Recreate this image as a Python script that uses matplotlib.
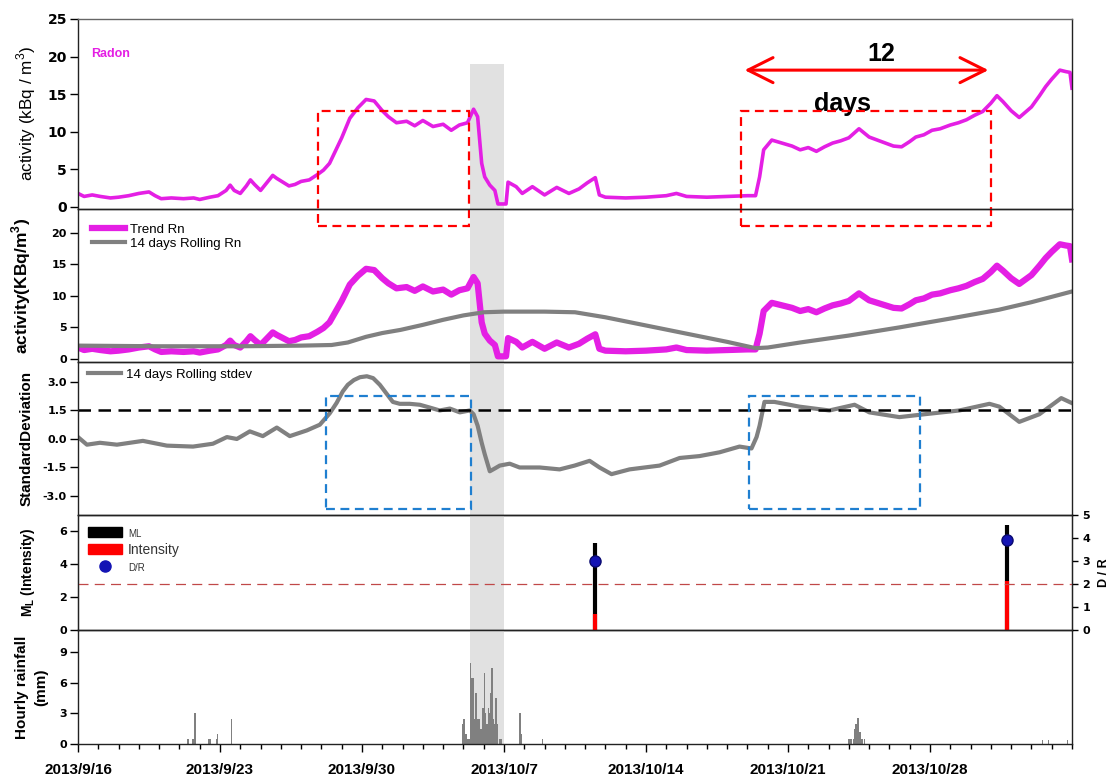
import numpy as np
import matplotlib
matplotlib.use("Agg")
import matplotlib.pyplot as plt
import matplotlib.dates as mdates
from matplotlib.patches import Rectangle, Patch
from matplotlib.lines import Line2D
from matplotlib.ticker import FixedLocator, FuncFormatter

plt.rcParams['font.family'] = ['Liberation Sans', 'DejaVu Sans']
plt.rcParams['axes.unicode_minus'] = False
plt.rcParams['mathtext.fontset'] = 'custom'
plt.rcParams['mathtext.rm'] = 'Liberation Sans'
plt.rcParams['mathtext.bf'] = 'Liberation Sans:bold'

# ---- data (x in days after 2013/9/16 00:00) ----
rn_day = [0.0, 0.3, 0.7, 1.1, 1.6, 2.0, 2.5, 3.0, 3.5, 3.8, 4.1, 4.6, 5.2, 5.7, 6.0,
          6.5, 6.9, 7.3, 7.5, 7.7, 8.0, 8.3, 8.5, 8.7, 9.0, 9.3, 9.6, 9.8, 10.1, 10.4,
          10.7, 11.0, 11.4, 11.8, 12.1, 12.4, 12.7, 13.0, 13.4, 13.8, 14.2, 14.6, 15.0,
          15.3, 15.7, 16.2, 16.6, 17.0, 17.5, 18.0, 18.4, 18.8, 19.2, 19.5, 19.7, 19.8,
          19.9, 20.05, 20.3, 20.55, 20.7, 21.1, 21.2, 21.6, 21.9, 22.4, 23.0, 23.6, 24.2,
          24.7, 25.1, 25.5, 25.7, 26.0, 27.0, 28.0, 29.0, 29.5, 30.0, 31.0, 32.0, 33.0,
          33.4, 33.6, 33.8, 34.2, 34.7, 35.2, 35.6, 36.0, 36.4, 36.8, 37.2, 37.6, 38.0,
          38.5, 39.0, 39.4, 39.8, 40.2, 40.6, 41.0, 41.3, 41.7, 42.1, 42.5, 43.0, 43.4,
          43.8, 44.2, 44.6, 45.0, 45.3, 45.6, 46.0, 46.4, 46.7, 47.0, 47.4, 47.7, 48.0,
          48.4, 48.7, 48.9, 49.0]
rn_val = [1.8, 1.4, 1.6, 1.4, 1.2, 1.3, 1.5, 1.8, 2.0, 1.5, 1.1, 1.2, 1.1, 1.2, 1.0,
          1.3, 1.5, 2.2, 2.9, 2.2, 1.8, 2.8, 3.6, 3.0, 2.2, 3.2, 4.2, 3.8, 3.3, 2.8,
          3.0, 3.4, 3.6, 4.3, 4.9, 5.8, 7.5, 9.2, 11.8, 13.2, 14.3, 14.1, 12.8,
          12.0, 11.2, 11.4, 10.8, 11.5, 10.7, 11.0, 10.2, 10.9, 11.2, 13.0, 12.0, 8.9,
          5.8, 4.0, 2.9, 2.2, 0.4, 0.4, 3.3, 2.7, 1.8, 2.7, 1.6, 2.6, 1.8,
          2.4, 3.2, 3.9, 1.6, 1.3, 1.2, 1.3, 1.5, 1.8, 1.4, 1.3, 1.4, 1.5,
          1.5, 4.0, 7.6, 8.9, 8.5, 8.1, 7.6, 7.9, 7.4, 8.0, 8.5, 8.8, 9.2,
          10.4, 9.3, 8.9, 8.5, 8.1, 8.0, 8.7, 9.3, 9.6, 10.2, 10.4, 10.9, 11.2,
          11.6, 12.2, 12.7, 13.8, 14.8, 14.0, 12.8, 11.9, 12.6, 13.3, 14.8, 16.0, 17.0,
          18.2, 18.0, 17.9, 15.8]

roll_day = [0, 4, 8, 11, 12.5, 13.3, 14.2, 15.0, 15.9, 17.0, 18.0, 19.0, 20.0, 21.0,
            23.0, 24.5, 26.0, 28.0, 30.0, 32.0, 33.4, 34.0, 35.6, 38.0, 40.5, 43.0,
            45.4, 47.0, 49.0]
roll_val = [2.1, 2.0, 2.0, 2.1, 2.2, 2.6, 3.5, 4.1, 4.6, 5.4, 6.2, 6.9, 7.4, 7.5,
            7.5, 7.4, 6.6, 5.3, 4.0, 2.7, 1.7, 1.8, 2.6, 3.7, 5.0, 6.4,
            7.8, 9.0, 10.7]

sd_day = [0.0, 0.44, 1.08, 1.92, 3.2, 4.38, 5.67, 6.65, 7.34, 7.83, 8.47, 9.11, 9.8,
          10.44, 11.28, 11.92, 12.41, 12.75, 13.05, 13.3, 13.6, 13.9, 14.24, 14.55,
          14.88, 15.2, 15.52, 15.86, 16.35, 16.85, 17.35, 17.83, 18.33, 18.82, 19.31,
          19.5, 19.7, 19.9, 20.05, 20.3, 20.55, 20.79, 21.28, 21.77, 22.76,
          23.74, 24.48, 25.22, 25.71, 26.3, 27.19, 28.67, 29.66, 30.64, 31.63, 32.61,
          33.2, 33.45, 33.6, 33.84, 34.33, 35.57, 37.04, 38.28, 39.01, 40.49, 41.72, 43.45,
          44.93, 45.42, 46.4, 47.39, 48.47, 48.97]
sd_val = [0.1, -0.3, -0.2, -0.3, -0.1, -0.35, -0.4, -0.25, 0.1, 0.0, 0.4, 0.15, 0.6,
          0.15, 0.45, 0.75, 1.35, 1.9, 2.5, 2.85, 3.1, 3.25, 3.3, 3.2,
          2.85, 2.4, 1.95, 1.85, 1.85, 1.8, 1.65, 1.5, 1.6, 1.4, 1.5,
          1.3, 0.7, -0.2, -0.8, -1.7, -1.55, -1.4, -1.3, -1.5, -1.5,
          -1.6, -1.4, -1.15, -1.5, -1.85, -1.6, -1.4, -1.0, -0.9, -0.7, -0.4,
          -0.5, 0.1, 0.7, 1.95, 1.95, 1.7, 1.5, 1.8, 1.4, 1.15, 1.3, 1.5,
          1.85, 1.7, 0.9, 1.3, 2.15, 1.9]

rain_day = [5.42, 5.67, 5.78, 6.45, 6.52, 6.83, 6.88, 7.56,
            18.96, 19.03, 19.12, 19.21, 19.28, 19.35, 19.42, 19.49, 19.56, 19.63, 19.70,
            19.77, 19.84, 19.91, 19.96, 20.03, 20.08, 20.15, 20.23, 20.30, 20.35, 20.40,
            20.47, 20.54, 20.61, 20.68, 20.77, 20.86,
            21.79, 21.84, 22.9,
            37.98, 38.05, 38.13, 38.25, 38.31, 38.36, 38.43, 38.48, 38.55, 38.66, 38.77,
            47.54, 47.83, 48.77]
rain_mm = [0.5, 0.5, 3.0, 0.5, 0.5, 0.5, 1.0, 2.5,
           2.0, 2.5, 1.0, 0.5, 0.5, 8.0, 6.5, 6.5, 2.5, 5.0, 2.5,
           2.5, 1.5, 1.5, 3.5, 7.0, 3.0, 2.0, 3.5, 3.0, 5.0, 7.5,
           2.5, 2.0, 4.5, 2.0, 0.5, 0.5,
           3.0, 1.0, 0.5,
           0.5, 0.5, 0.5, 0.5, 1.5, 2.0, 2.6, 2.6, 1.2, 0.5, 0.5,
           0.4, 0.4, 0.4]

eq_day = [25.5, 45.78]
eq_ml = [5.3, 6.4]
eq_int = [1, 3]
eq_dr = [3.0, 3.9]

tick_dates = np.array(['2013-09-16', '2013-09-23', '2013-09-30', '2013-10-07',
                       '2013-10-14', '2013-10-21', '2013-10-28'], dtype='datetime64[D]')

rain_band = (19.3, 21.0)
red_boxes = [(11.85, 19.26), (32.66, 45.03)]
blue_boxes = [(12.22, 19.36), (33.1, 41.5)]

# ---- figure ----
base = mdates.date2num(np.datetime64('2013-09-16T00:00'))
def t(days):
    return base + np.asarray(days, dtype=float)

MAG = '#e41fe4'
GRY = '#808080'

fig = plt.figure(figsize=(11.15, 7.78), dpi=100)
L, W = 78 / 1115, 994 / 1115
def panel(top, bottom):
    return fig.add_axes([L, 1 - bottom / 778, W, (bottom - top) / 778])

ax1 = panel(19, 209)
ax2 = panel(209, 362)
ax3 = panel(362, 515)
ax4 = panel(515, 630)
ax5 = panel(630, 744)
axes = [ax1, ax2, ax3, ax4, ax5]

for ax in axes:
    ax.patch.set_visible(False)
    ax.set_xlim(t(0), t(49))
    for s in ax.spines.values():
        s.set_linewidth(1.0)
        s.set_color('#222222')
    ax.tick_params(axis='y', direction='out', length=6, width=1, pad=2)
    if ax is not ax5:
        ax.tick_params(axis='x', which='both', bottom=False, labelbottom=False)
    ymax = 0.763 if ax is ax1 else 1.0
    ax.axvspan(t(rain_band[0]), t(rain_band[1]), ymin=0, ymax=ymax,
               color='#e1e1e1', lw=0, zorder=0)
ax1.spines['top'].set_color('#666666')

# panel 1: radon
ax1.plot(t(rn_day), rn_val, color=MAG, lw=2.6, solid_joinstyle='round')
ax1.set_ylim(-0.27, 25)
ax1.set_yticks([0, 5, 10, 15, 20, 25])
ax1.set_ylabel('activity (kBq / m$^3$)', fontsize=12.3)
ax1.yaxis.set_label_coords(-0.040, 0.5)
ax1.text(0.013, 0.816, 'Radon', transform=ax1.transAxes, color=MAG,
         fontsize=9, fontweight='bold', va='center')
for x0, x1 in red_boxes:
    ax1.add_patch(Rectangle((t(x0), -2.53), x1 - x0, 15.3, fill=False,
                            ec='red', lw=1.6, ls=(0, (4, 2.5)), clip_on=False, zorder=5))
ax1.annotate('', xy=(t(44.88), 18.2), xytext=(t(32.86), 18.2),
             arrowprops=dict(arrowstyle='<->,head_length=0.9,head_width=0.45',
                             color='red', lw=2.2, shrinkA=0, shrinkB=0,
                             mutation_scale=20))
ax1.text(t(39.6), 20.3, '12', fontsize=18, fontweight='bold', ha='center', va='center')
ax1.text(t(37.7), 13.7, 'days', fontsize=18, fontweight='bold', ha='center', va='center')

# panel 2: trend and rolling mean
ax2.plot(t(rn_day), rn_val, color=MAG, lw=4.5, solid_joinstyle='round', label='Trend Rn')
ax2.plot(t(roll_day), roll_val, color=GRY, lw=3, label='14 days Rolling Rn')
ax2.set_ylim(-0.5, 23.8)
ax2.set_yticks([0, 5, 10, 15, 20])
ax2.set_ylabel('activity(KBq/m$^\\mathbf{3}$)', fontsize=12.5, fontweight='bold')
ax2.yaxis.set_label_coords(-0.045, 0.5)
ax2.legend(loc='upper left', bbox_to_anchor=(0.0088, 0.941), borderaxespad=0,
           frameon=False, fontsize=9.5, handlelength=2.5, handletextpad=0.4,
           labelspacing=0.15)

# panel 3: rolling stdev
ax3.plot(t(sd_day), sd_val, color=GRY, lw=3, solid_joinstyle='round',
         label='14 days Rolling stdev')
ax3.axhline(1.5, color='black', lw=1.8, ls=(0, (5, 3)))
ax3.set_ylim(-4.0, 4.05)
ax3.set_yticks([-3, -1.5, 0, 1.5, 3])
ax3.yaxis.set_major_formatter(FuncFormatter(lambda v, p: f'{v:.1f}'))
ax3.set_ylabel('StandardDeviation', fontsize=11, fontweight='bold')
ax3.yaxis.set_label_coords(-0.045, 0.5)
for x0, x1 in blue_boxes:
    ax3.add_patch(Rectangle((t(x0), -3.7), x1 - x0, 5.98, fill=False,
                            ec='#1f7fd0', lw=1.6, ls=(0, (4, 2.5)), zorder=5))
ax3.legend(loc='upper left', bbox_to_anchor=(0.0047, 0.992), borderaxespad=0,
           frameon=False, fontsize=9.5, handlelength=2.5, handletextpad=0.4)

# panel 4: earthquakes
ax4r = ax4.twinx()
ax4r.set_xlim(t(0), t(49))
ax4.vlines(t(eq_day), 0, eq_ml, color='black', lw=3, zorder=3)
ax4.vlines(t(eq_day), 0, eq_int, color='red', lw=3, zorder=4)
ax4r.axhline(2, color='#c04848', lw=0.9, ls=(0, (8, 5)))
ax4r.plot(t(eq_day), eq_dr, 'o', color='#1414b4', mec='#0a0a70', ms=8, zorder=5)
ax4.set_ylim(0, 7.0)
ax4.set_yticks([0, 2, 4, 6])
ax4r.set_ylim(0, 5)
ax4r.set_yticks([0, 1, 2, 3, 4, 5])
ax4r.tick_params(axis='y', direction='out', length=4.5, width=1, pad=3)
for s in ax4r.spines.values():
    s.set_color('#222222')
ax4.set_ylabel('$\\mathbf{M_L}$ (Intensity)', fontsize=10, fontweight='bold')
ax4.yaxis.set_label_coords(-0.041, 0.5)
ax4r.set_ylabel('D / R', fontsize=9, fontweight='bold')
ax4r.yaxis.set_label_coords(1.026, 0.5)
handles = [Patch(color='black'), Patch(color='red'),
           Line2D([], [], ls='none', marker='o', color='#1414b4', ms=8)]
leg = ax4.legend(handles, ['ML', 'Intensity', 'D/R'], loc='upper left',
                 bbox_to_anchor=(0.0044, 0.948), borderaxespad=0, frameon=False,
                 fontsize=10, handlelength=2.45, handleheight=0.8, handletextpad=0.45,
                 labelspacing=0.3)
for txt, size in zip(leg.get_texts(), [7, 10, 7]):
    txt.set_fontsize(size)
    txt.set_color('#333333')

# panel 5: rainfall
ax5.bar(t(rain_day), rain_mm, width=0.075, color=GRY, lw=0, zorder=2)
ax5.set_ylim(0, 11.2)
ax5.set_yticks([0, 3, 6, 9])
ax5.set_ylabel('Hourly rainfall\n(mm)', fontsize=11, fontweight='bold', linespacing=1.45)
ax5.yaxis.set_label_coords(-0.030, 0.5)
ax5.xaxis.set_major_locator(FixedLocator(mdates.date2num(tick_dates)))
ax5.xaxis.set_minor_locator(FixedLocator(t(np.arange(0, 50))))
ax5.xaxis.set_major_formatter(FuncFormatter(
    lambda v, p: '{0.year}/{0.month}/{0.day}'.format(mdates.num2date(v))))
ax5.tick_params(axis='x', which='major', direction='out', length=6, width=1, pad=7.5)
ax5.tick_params(axis='x', which='minor', direction='out', length=3.5, width=1)
for lab in ax5.get_xticklabels():
    lab.set_fontweight('bold')
    lab.set_fontsize(11)

for ax in axes + [ax4r]:
    for lab in ax.get_yticklabels():
        lab.set_family('DejaVu Sans')
        lab.set_fontweight('bold')
        lab.set_fontsize(10 if ax is ax1 else 8)

fig.savefig('out.png', dpi=100)
